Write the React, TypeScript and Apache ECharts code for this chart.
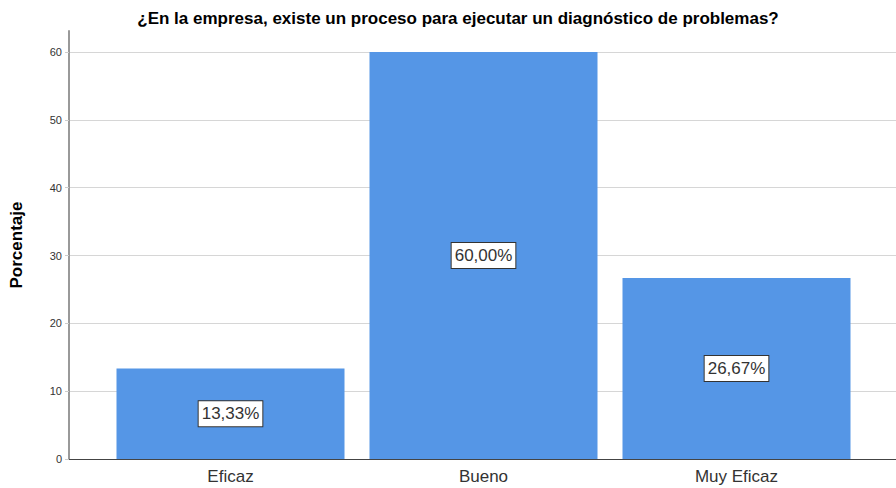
import React, { useEffect, useRef } from "react";
import * as echarts from "echarts";

const titleText = "¿En la empresa, existe un proceso para ejecutar un diagnóstico de problemas?";
const yAxisName = "Porcentaje";
const categories = ["Eficaz", "Bueno", "Muy Eficaz"];
const percentages = [13.33, 60.0, 26.67];
const yMax = 63.1;
const yInterval = 10;

export default function App() {
  const ref = useRef<HTMLDivElement>(null);
  useEffect(() => {
    if (!ref.current) return;
    const chart = echarts.init(ref.current, undefined, { renderer: "svg" });
    const font = "'Liberation Sans', Arial, sans-serif";
    chart.setOption({
      animation: false,
      backgroundColor: "#ffffff",
      title: {
        text: titleText,
        left: 453,
        top: 5,
        textAlign: "center",
        textStyle: { fontFamily: font, fontSize: 17, fontWeight: "bold", color: "#000" },
      },
      grid: [
        { left: 62, right: 0, top: 31, bottom: 29 },
        { left: 104, width: 759, top: 31, bottom: 29 },
      ],
      xAxis: [
        {
          type: "value",
          gridIndex: 0,
          min: 0,
          max: 1,
          axisLine: { show: true, lineStyle: { color: "#444", width: 1 } },
          axisTick: { show: false },
          axisLabel: { show: false },
          splitLine: { show: false },
        },
        {
          type: "category",
          gridIndex: 1,
          data: categories,
          axisLine: { show: false },
          axisTick: { show: false },
          axisLabel: { fontFamily: font, fontSize: 17, color: "#333", margin: 9 },
          splitLine: { show: false },
        },
      ],
      yAxis: [
        {
          type: "value",
          gridIndex: 0,
          min: 0,
          max: yMax,
          interval: yInterval,
          name: yAxisName,
          nameLocation: "middle",
          nameGap: 44,
          nameTextStyle: { fontFamily: font, fontSize: 17, fontWeight: "bold", color: "#000" },
          axisLine: { show: true, lineStyle: { color: "#999", width: 2 } },
          axisTick: { show: true, length: 4, lineStyle: { color: "#ccc" } },
          axisLabel: {
            fontFamily: font,
            fontSize: 11,
            color: "#333",
            margin: 7,
            showMaxLabel: false,
            formatter: (v: number) => (Math.abs(v % yInterval) < 1e-6 ? String(v) : ""),
          },
          splitLine: { show: true, showMaxLine: false, lineStyle: { color: "#d6d6d6", width: 1 } },
        },
        {
          type: "value",
          gridIndex: 1,
          min: 0,
          max: yMax,
          interval: yInterval,
          show: false,
          splitLine: { show: false },
        },
      ],
      series: [
        {
          type: "bar",
          xAxisIndex: 1,
          yAxisIndex: 1,
          data: percentages,
          barWidth: 228,
          itemStyle: { color: "#5596e6" },
          label: {
            show: true,
            position: "inside",
            formatter: (p: any) => p.value.toFixed(2).replace(".", ",") + "%",
            fontFamily: font,
            fontSize: 17,
            lineHeight: 20,
            color: "#333",
            backgroundColor: "#fff",
            borderColor: "#333",
            borderWidth: 1,
            padding: [3, 3, 2, 3],
          },
        },
      ],
    });
    return () => chart.dispose();
  }, []);
  return (
    <div
      ref={ref}
      style={{ position: "fixed", left: 0, top: 0, width: 896, height: 488 }}
    />
  );
}
